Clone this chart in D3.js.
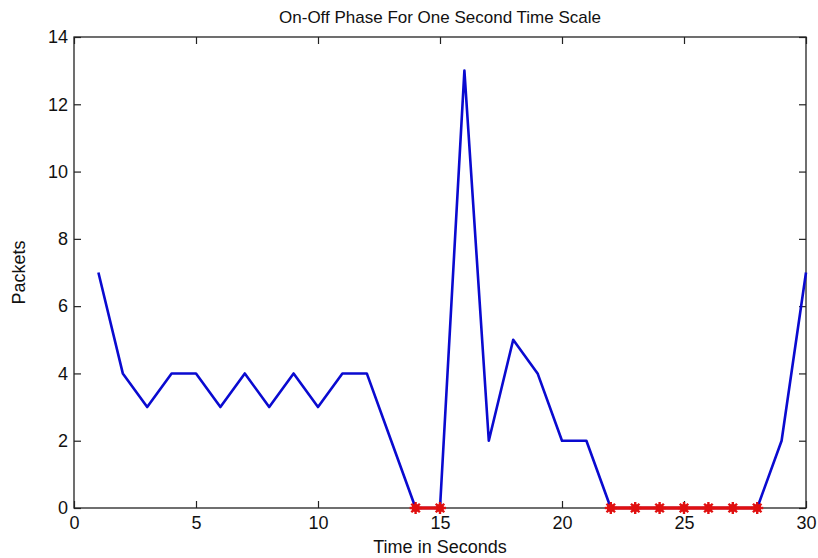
<!DOCTYPE html>
<html lang="en">
<head>
<meta charset="UTF-8">
<title>On-Off Phase For One Second Time Scale</title>
<script src="https://d3js.org/d3.v7.min.js"></script>
<style>
  body { margin: 0; background: #fff; }
  text { font-family: "Liberation Sans", Arial, sans-serif; fill: #111; }
</style>
</head>
<body>
<script>
// chart data
const seconds = d3.range(1, 31);
const packets = [7, 4, 3, 4, 4, 3, 4, 3, 4, 3, 4, 4, 2, 0, 0, 13, 2, 5, 4, 2, 2, 0, 0, 0, 0, 0, 0, 0, 2, 7];
const xTicks = [0, 5, 10, 15, 20, 25, 30];
const yTicks = [0, 2, 4, 6, 8, 10, 12, 14];
// off-phase runs (seconds with zero packets), highlighted in red
const offRuns = [[14, 15], [22, 23, 24, 25, 26, 27, 28]];

const width = 818, height = 558;
const margin = {top: 37, right: 12, bottom: 50, left: 74};

const svg = d3.select("body").append("svg")
    .attr("width", width)
    .attr("height", height);

const x = d3.scaleLinear().domain([0, 30]).range([margin.left, width - margin.right]);
const y = d3.scaleLinear().domain([0, 14]).range([height - margin.bottom, margin.top]);

// frame
svg.append("rect")
    .attr("x", x(0)).attr("y", y(14))
    .attr("width", x(30) - x(0)).attr("height", y(0) - y(14))
    .attr("fill", "none").attr("stroke", "#222").attr("stroke-width", 1.3);

// inward ticks, on all four sides
const tickLen = 7;
svg.append("g").attr("transform", `translate(0,${y(0)})`)
    .call(d3.axisBottom(x).tickValues(xTicks).tickSizeInner(-tickLen).tickSizeOuter(0).tickPadding(7))
    .call(g => g.select(".domain").remove())
    .call(g => g.selectAll("text").attr("font-size", 18).attr("dy", "0.75em"));
svg.append("g").attr("transform", `translate(0,${y(14)})`)
    .call(d3.axisTop(x).tickValues(xTicks).tickSizeInner(-tickLen).tickSizeOuter(0).tickFormat(""))
    .call(g => g.select(".domain").remove());
svg.append("g").attr("transform", `translate(${x(0)},0)`)
    .call(d3.axisLeft(y).tickValues(yTicks).tickSizeInner(-tickLen).tickSizeOuter(0).tickPadding(6))
    .call(g => g.select(".domain").remove())
    .call(g => g.selectAll("text").attr("font-size", 18));
svg.append("g").attr("transform", `translate(${x(30)},0)`)
    .call(d3.axisRight(y).tickValues(yTicks).tickSizeInner(-tickLen).tickSizeOuter(0).tickFormat(""))
    .call(g => g.select(".domain").remove());
svg.selectAll(".tick line").attr("stroke", "#222").attr("stroke-width", 1.2);
svg.selectAll(".tick text").attr("fill", "#111");

// blue packet line
const line = d3.line().x((d, i) => x(seconds[i])).y(d => y(d));
svg.append("path")
    .datum(packets)
    .attr("fill", "none")
    .attr("stroke", "#0a0ad0")
    .attr("stroke-width", 2.6)
    .attr("stroke-linejoin", "round")
    .attr("d", line);

// red off-phase runs with asterisk markers
const offLine = d3.line().x(d => x(d)).y(d => y(packets[d - 1]));
offRuns.forEach(run => {
  svg.append("path")
      .datum(run)
      .attr("fill", "none")
      .attr("stroke", "#e01010")
      .attr("stroke-width", 3.4)
      .attr("d", offLine);
  const m = svg.append("g").selectAll("g")
      .data(run).join("g")
      .attr("transform", d => `translate(${x(d)},${y(packets[d - 1])})`);
  m.append("circle").attr("r", 4).attr("fill", "#e01010");
  [0, 45, 90, 135].forEach(a => {
    m.append("line")
        .attr("x1", -6).attr("x2", 6)
        .attr("transform", `rotate(${a})`)
        .attr("stroke", "#e01010").attr("stroke-width", 2.4);
  });
});

// titles
svg.append("text")
    .attr("x", (x(0) + x(30)) / 2).attr("y", 23)
    .attr("text-anchor", "middle").attr("font-size", 17)
    .text("On-Off Phase For One Second Time Scale");
svg.append("text")
    .attr("x", (x(0) + x(30)) / 2).attr("y", 553)
    .attr("text-anchor", "middle").attr("font-size", 18)
    .text("Time in Seconds");
svg.append("text")
    .attr("transform", `translate(25,${(y(0) + y(14)) / 2}) rotate(-90)`)
    .attr("text-anchor", "middle").attr("font-size", 18)
    .text("Packets");
</script>
</body>
</html>
